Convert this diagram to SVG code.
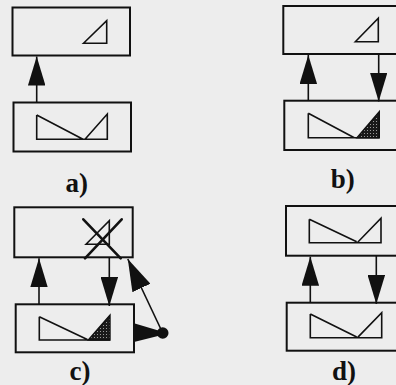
<svg xmlns="http://www.w3.org/2000/svg" width="396" height="385" viewBox="0 0 396 385">
<style>
.box{fill:none;stroke:#111;stroke-width:2}
.shp{fill:none;stroke:#111;stroke-width:1.6;stroke-linejoin:miter}
.dark{fill:url(#stip);stroke:#111;stroke-width:1.4}
.con{stroke:#111;stroke-width:1.6;fill:none}
.lbl{font-family:"Liberation Serif",serif;font-size:27px;font-weight:bold;fill:#111;text-anchor:middle}
.cross{stroke:#111;stroke-width:2.6;stroke-linecap:round}
</style>
<defs>
<pattern id="stip" width="3" height="3" patternUnits="userSpaceOnUse">
<rect width="3" height="3" fill="#1a1a1a"/>
<rect x="1" y="1" width="1" height="1" fill="#9a9a9a"/>
</pattern>
<marker id="ah" viewBox="0 0 29 17.5" refX="29" refY="8.75" markerWidth="29" markerHeight="17.5" markerUnits="userSpaceOnUse" orient="auto">
<path d="M0,0 L29,8.75 L0,17.5 z" fill="#111"/>
</marker>
<marker id="ah2" viewBox="0 0 32 20" refX="32" refY="10" markerWidth="32" markerHeight="20" markerUnits="userSpaceOnUse" orient="auto">
<path d="M0,0 L32,10 L0,20 z" fill="#111"/>
</marker>
</defs>
<rect width="396" height="385" fill="#ededed"/>

<g id="a-top">
<rect class="box" x="12.5" y="7.5" width="117.5" height="48"/>
<polygon class="shp" points="83.5,43.3 106.7,20.7 106.7,43.3"/>
</g>
<g id="a-bottom">
<rect class="box" x="13.5" y="102.5" width="117.5" height="49"/>
<path class="shp" d="M36.7,115 L83,139.3 M36.7,115 V139.3 H107.3 V114 L85,139.3"/>
</g>
<text class="lbl" x="76.7" y="191.5">a)</text>

<g id="b-top">
<rect class="box" x="283.3" y="6" width="130" height="48"/>
<polygon class="shp" points="355.3,41.7 378.3,18.3 378.3,41.7"/>
</g>
<g id="b-bottom">
<rect class="box" x="284.3" y="100.7" width="130" height="49.3"/>
<path class="shp" d="M308.3,113.3 L354.3,137.7 M308.3,113.3 V137.7 H379.3"/>
<polygon class="dark" points="357,137.7 379.3,111.7 379.3,137.7"/>
</g>
<text class="lbl" x="342.7" y="188">b)</text>

<g id="c-top">
<rect class="box" x="14.3" y="207.3" width="118.4" height="50"/>
<polygon class="shp" points="86,244.3 109.3,220.7 109.3,244.3"/>
<line class="cross" x1="83.3" y1="219.3" x2="120.7" y2="258.3"/>
<line class="cross" x1="121.7" y1="219.3" x2="85" y2="258.3"/>
</g>
<g id="c-bottom">
<rect class="box" x="15.7" y="304.3" width="118.3" height="48"/>
<path class="shp" d="M39.3,316.7 L87.3,339.5 M39.3,316.7 V340 H110"/>
<polygon class="dark" points="88.3,340 110,315 110,340"/>
</g>
<g id="c-dot">
<polygon points="134,323.3 160,331 160,335.5 134,342" fill="#111"/>
<circle cx="162.7" cy="333" r="5.8" fill="#111"/>
</g>
<text class="lbl" x="80" y="379.5">c)</text>

<g id="d-top">
<rect class="box" x="286" y="206" width="130" height="49.7"/>
<path class="shp" d="M309.3,219.3 L356.7,241.7 M309.3,219.3 V242.7 H381 V218.3 L357.7,242.2"/>
</g>
<g id="d-bottom">
<rect class="box" x="286.7" y="302.7" width="130" height="48"/>
<path class="shp" d="M310.3,314 L356.7,337 M310.3,314 V337.7 H381.7 V312.7 L357.7,337.4"/>
</g>
<text class="lbl" x="344" y="379.5">d)</text>

<g id="connectors">
<line class="con" x1="36.7" y1="102.5" x2="36.7" y2="56.5" marker-end="url(#ah)"/>
<line class="con" x1="308.3" y1="100.7" x2="308.3" y2="55" marker-end="url(#ah)"/>
<line class="con" x1="378.7" y1="54" x2="378.7" y2="101.5" marker-end="url(#ah)"/>
<line class="con" x1="39" y1="304.3" x2="39" y2="258.3" marker-end="url(#ah)"/>
<line class="con" x1="109.3" y1="257.3" x2="109.3" y2="306" marker-end="url(#ah)"/>
<line class="con" x1="162.7" y1="333" x2="127.8" y2="259" marker-end="url(#ah2)"/>
<line class="con" x1="310.3" y1="302.7" x2="310.3" y2="256.7" marker-end="url(#ah)"/>
<line class="con" x1="376.3" y1="255.7" x2="376.3" y2="304" marker-end="url(#ah)"/>
</g>
</svg>
